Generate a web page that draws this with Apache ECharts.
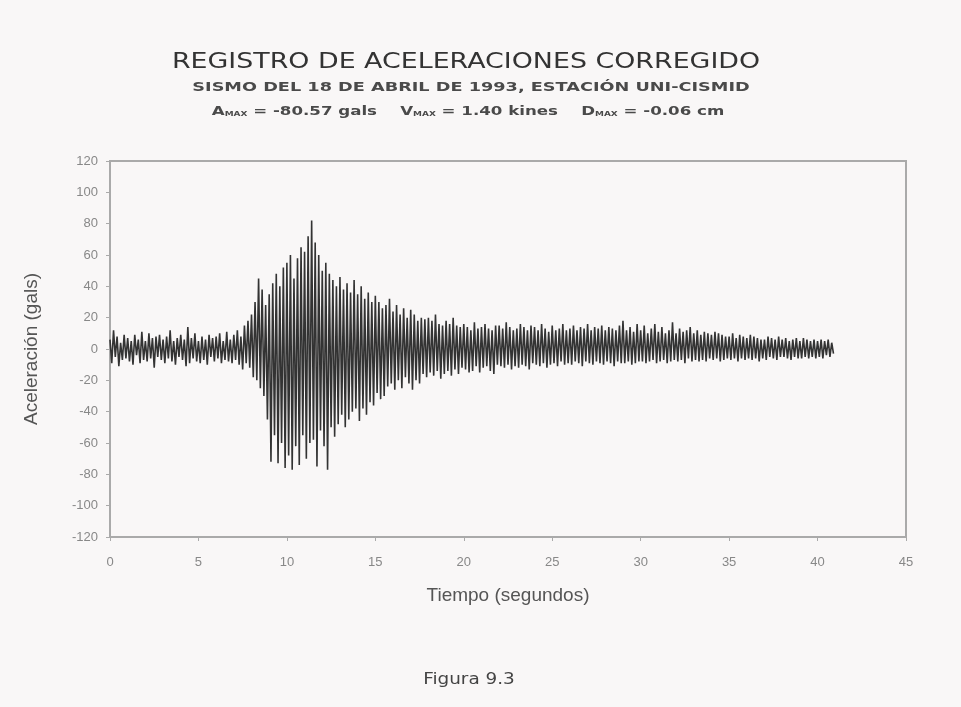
<!DOCTYPE html>
<html>
<head>
<meta charset="utf-8">
<script src="https://cdn.jsdelivr.net/npm/echarts@6/dist/echarts.min.js"></script>
<style>html,body{margin:0;padding:0;background:#f9f7f7;}#c{width:961px;height:707px;}</style>
</head>
<body>
<div id="c"></div>
<script>
// Sample step (s) of the values read from the record
var dt = 0.1;
// Acceleration (gals), 10 samples per second, t = 0 .. 41 s
var accel = [
 6,-9,12,-5,8,-11,4,-7,9,-6,
 7,-8,5,-10,9,-4,6,-9,11,-7,
 5,-8,10,-6,7,-12,8,-5,9,-7,
 6,-9,8,-6,12,-8,5,-10,7,-5,
 9,-7,6,-11,14,-9,7,-6,10,-8,
 5,-9,8,-7,6,-10,9,-5,7,-8,
 8,-6,10,-9,5,-7,11,-8,6,-9,
 9,-7,12,-10,8,-13,15,-9,18,-12,
 22,-18,30,-20,45,-25,38,-30,28,-45,
 35,-72,42,-55,48,-73,40,-60,52,-76,
 55,-68,60,-77,45,-62,58,-74,65,-55,
 62,-70,72,-60,82,-58,68,-75,60,-52,
 50,-62,55,-77,48,-50,44,-56,40,-48,
 46,-42,38,-50,42,-45,36,-40,44,-38,
 35,-46,40,-38,32,-42,36,-34,30,-36,
 34,-28,30,-32,26,-30,28,-24,32,-22,
 24,-26,28,-20,22,-25,26,-18,20,-22,
 25,-26,22,-20,18,-22,20,-16,19,-18,
 20,-15,18,-17,22,-14,16,-19,15,-16,
 18,-14,16,-17,20,-13,15,-16,14,-12,
 16,-13,14,-15,12,-14,17,-11,13,-15,
 14,-12,16,-11,13,-14,12,-16,15,-10,
 15,-11,13,-12,17,-10,14,-13,12,-11,
 13,-12,16,-10,14,-11,12,-13,15,-9,
 14,-10,12,-11,16,-9,13,-12,11,-10,
 15,-9,12,-11,13,-8,16,-10,12,-9,
 13,-10,15,-8,12,-9,14,-11,13,-8,
 16,-9,12,-10,14,-8,13,-9,15,-10,
 12,-8,14,-9,13,-11,12,-8,15,-9,
 18,-9,12,-8,14,-10,11,-9,16,-8,
 12,-8,15,-9,10,-8,13,-7,16,-9,
 11,-8,14,-7,10,-9,12,-8,17,-7,
 10,-8,13,-7,11,-9,12,-6,14,-8,
 10,-7,12,-8,9,-7,11,-8,10,-6,
 9,-7,11,-6,10,-8,9,-7,8,-6,
 8,-7,10,-6,7,-8,9,-6,8,-7,
 7,-6,9,-7,8,-6,7,-8,6,-6,
 6,-7,8,-5,7,-6,6,-7,8,-5,
 6,-5,7,-6,5,-7,6,-5,7,-6,
 5,-6,7,-5,6,-6,5,-5,6,-6,
 5,-5,6,-6,5,-4,6,-5,4,-3
];
var xTicks = {min: 0, max: 45, interval: 5};
var yTicks = {min: -120, max: 120, interval: 20};
var titleText = 'REGISTRO DE ACELERACIONES CORREGIDO';
var subText = 'SISMO DEL 18 DE ABRIL DE 1993, ESTACIÓN UNI-CISMID';
var peakRich = '{a|A}{s|MAX}{a| = -80.57 gals    V}{s|MAX}{a| = 1.40 kines    D}{s|MAX}{a| = -0.06 cm}';
var figText = 'Figura 9.3';

var pts = accel.map(function (v, i) { return [+(i * dt).toFixed(2), v]; });

var chart = echarts.init(document.getElementById('c'), null, {renderer: 'canvas'});
var lblFont = 'Liberation Sans';
chart.setOption({
  backgroundColor: '#f9f7f7',
  animation: false,
  graphic: [
    {type: 'text', x: 466, y: 62, scaleX: 1.22, style: {text: titleText, font: '22px "DejaVu Sans"', fill: '#333', textAlign: 'center', textVerticalAlign: 'middle'}},
    {type: 'text', x: 471, y: 88, scaleX: 1.36, style: {text: subText, font: 'bold 13px "DejaVu Sans"', fill: '#4a4a4a', textAlign: 'center', textVerticalAlign: 'middle'}},
    {type: 'text', x: 468, y: 110, scaleX: 1.28, style: {text: peakRich, textAlign: 'center', textVerticalAlign: 'middle',
      rich: {
        a: {fontFamily: 'DejaVu Sans', fontSize: 13, fontWeight: 'bold', fill: '#4a4a4a', verticalAlign: 'bottom', lineHeight: 16},
        s: {fontFamily: 'DejaVu Sans', fontSize: 7, fontWeight: 'bold', fill: '#4a4a4a', verticalAlign: 'bottom', lineHeight: 12}
      }}},
    {type: 'text', x: 469, y: 680, scaleX: 1.15, style: {text: figText, font: '16px "DejaVu Sans"', fill: '#444', textAlign: 'center', textVerticalAlign: 'middle'}}
  ],
  grid: {left: 110, right: 55, top: 161, bottom: 170, show: true, borderColor: '#aaa', borderWidth: 2, backgroundColor: 'transparent'},
  xAxis: {
    type: 'value', min: xTicks.min, max: xTicks.max, interval: xTicks.interval,
    name: 'Tiempo (segundos)', nameLocation: 'middle', nameGap: 49,
    nameTextStyle: {fontFamily: lblFont, fontSize: 19, color: '#555'},
    axisLine: {show: true, onZero: false, lineStyle: {color: '#aaa', width: 2}},
    axisTick: {show: true, inside: false, length: 4, lineStyle: {color: '#aaa'}},
    axisLabel: {fontFamily: lblFont, fontSize: 13, color: '#888', margin: 19},
    splitLine: {show: false}
  },
  yAxis: {
    type: 'value', min: yTicks.min, max: yTicks.max, interval: yTicks.interval,
    name: 'Aceleración (gals)', nameLocation: 'middle', nameGap: 69,
    nameTextStyle: {fontFamily: lblFont, fontSize: 19, color: '#555'},
    axisLine: {show: true, onZero: false, lineStyle: {color: '#aaa', width: 2}},
    axisTick: {show: true, inside: false, length: 4, lineStyle: {color: '#aaa'}},
    axisLabel: {fontFamily: lblFont, fontSize: 13, color: '#888', margin: 12},
    splitLine: {show: false}
  },
  series: [{
    type: 'line', data: pts, showSymbol: false, symbol: 'none',
    lineStyle: {color: '#333', width: 1.6}, sampling: null
  }]
});
</script>
</body>
</html>
